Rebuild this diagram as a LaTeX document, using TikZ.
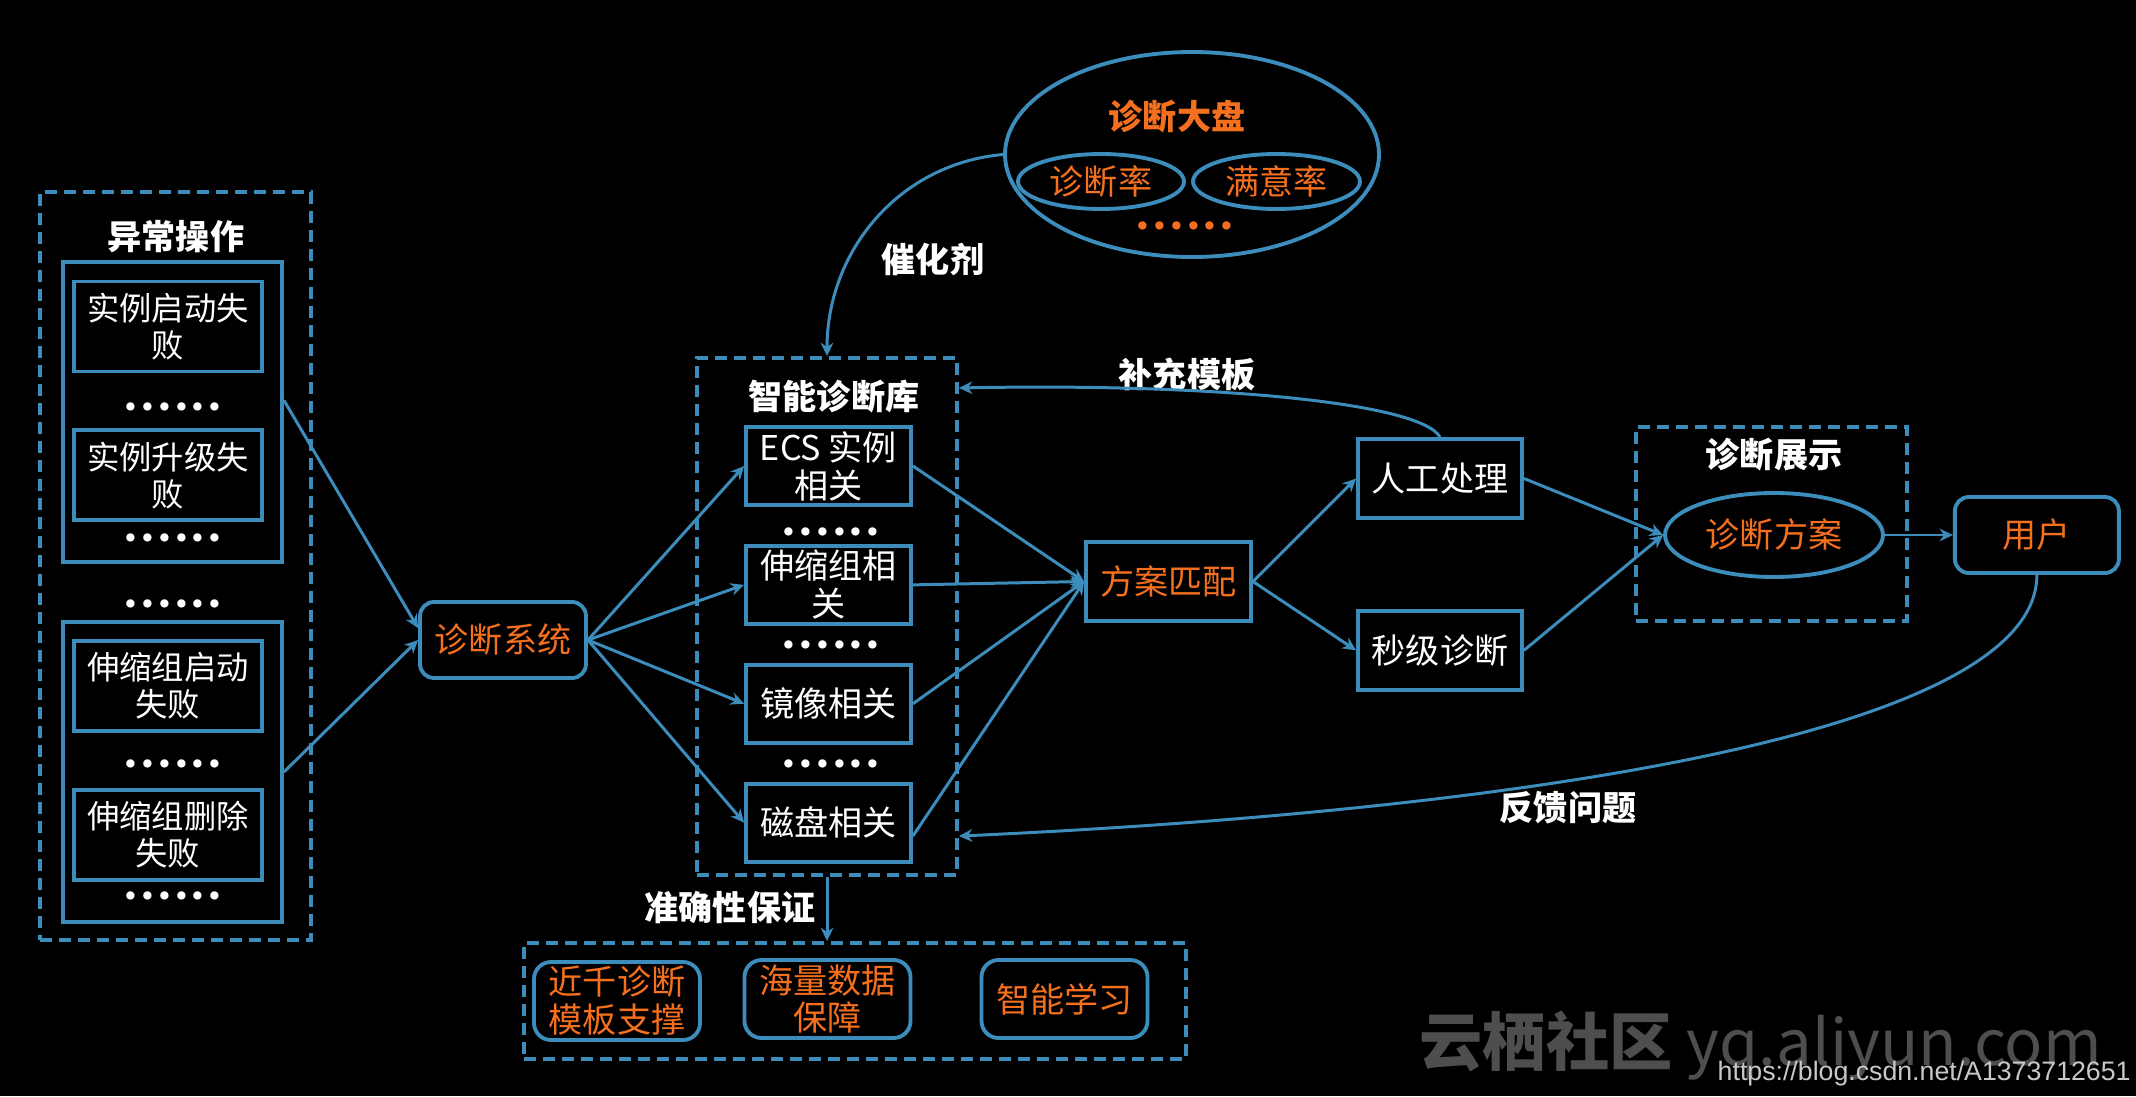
\documentclass[tikz,border=0pt]{standalone}
\usepackage{fontspec}
\setmainfont{Noto Sans CJK SC}
\newfontfamily\dotfont{DejaVu Sans}
\newfontfamily\urlfont{Liberation Sans}
\usetikzlibrary{shapes.geometric, arrows.meta, positioning, calc}
\definecolor{lineblue}{HTML}{3C8DBC}
\definecolor{hotorange}{HTML}{F5701E}
\definecolor{markgray}{HTML}{4E4E4E}
\definecolor{urlgray}{HTML}{C8C8C8}
\newcommand{\boxfont}{\fontsize{9.7pt}{10.8pt}\selectfont}
\newcommand{\smallboxfont}{\fontsize{9.2pt}{10.6pt}\selectfont}
\newcommand{\headfont}{\fontsize{9.7pt}{10.8pt}\selectfont\bfseries}
\tikzset{
  % plain boxes with white text
  opbox/.style={
    rectangle, draw=lineblue, line width=1.1pt, text=white, font=\boxfont,
    align=center, inner sep=1pt, minimum width=1.88cm, minimum height=0.9cm,
  },
  libbox/.style={opbox, minimum width=1.65cm, minimum height=0.78cm},
  grpbox/.style={rectangle, draw=lineblue, line width=1.1pt, minimum width=2.19cm, minimum height=3cm},
  % dashed zones
  zonebox/.style={rectangle, draw=lineblue, line width=1.1pt, dash pattern=on 0.12cm off 0.07cm},
  % rounded boxes with orange text
  hotbox/.style={
    rectangle, rounded corners=0.14cm, draw=lineblue, line width=1.1pt,
    text=hotorange, font=\boxfont, align=center, inner sep=1pt,
    minimum width=1.66cm, minimum height=0.78cm,
  },
  hotoval/.style={ellipse, draw=lineblue, line width=1.1pt, text=hotorange, font=\boxfont, inner sep=0pt},
  % titles and labels
  headtext/.style={text=white, font=\headfont, inner sep=1pt},
  dotline/.style={font=\dotfont\fontsize{8.1pt}{9pt}\selectfont, text=#1, inner sep=0pt},
  dotline/.default={white},
  % arrows
  flow/.style={-{Stealth[length=3.8pt, width=3.6pt]}, draw=lineblue, line width=0.85pt},
}
\begin{document}
\begin{tikzpicture}

  % page
  \fill[black] (0,0) rectangle (21.36,10.96);

  % abnormal operations
  \node[zonebox, minimum width=2.71cm, minimum height=7.48cm] (opszone) at (1.755,5.30) {};
  \node[headtext] (opstitle) at (1.76,8.59) {异常操作};
  \node[grpbox] (grpinst) at (1.725,6.84) {};
  \node[opbox, font=\smallboxfont] (opstart) at (1.68,7.695) {实例启动失\\败};
  \node[opbox, font=\smallboxfont, below=0.55cm of opstart] (opupgrade) {实例升级失\\败};
  \node[grpbox] (grpscale) at (1.725,3.24) {};
  \node[opbox, font=\smallboxfont] (opscalestart) at (1.68,4.10) {伸缩组启动\\失败};
  \node[opbox, font=\smallboxfont, below=0.55cm of opscalestart] (opscaledel) {伸缩组删除\\失败};
  \node[dotline] (opsdots1) at (1.73,6.86) {••••••};
  \node[dotline] (opsdots2) at (1.73,5.55) {••••••};
  \node[dotline] (opsdots3) at (1.73,4.89) {••••••};
  \node[dotline] (opsdots4) at (1.73,3.29) {••••••};
  \node[dotline] (opsdots5) at (1.73,1.97) {••••••};

  % diagnosis system
  \node[hotbox, minimum height=0.76cm] (diag) at (5.03,4.56) {诊断系统};

  % knowledge base
  \node[zonebox, minimum width=2.60cm, minimum height=5.17cm] (libzone) at (8.27,4.795) {};
  \node[headtext] (libtitle) at (8.34,6.99) {智能诊断库};
  \node[libbox] (libecs) at (8.285,6.30) {ECS 实例\\相关};
  \node[libbox, below=0.37cm of libecs] (libscale) {伸缩组相\\关};
  \node[libbox, below=0.37cm of libscale] (libimage) {镜像相关};
  \node[libbox, below=0.37cm of libimage] (libdisk) {磁盘相关};
  \node[dotline] (libdots1) at (8.31,5.61) {••••••};
  \node[dotline] (libdots2) at (8.31,4.48) {••••••};
  \node[dotline] (libdots3) at (8.31,3.29) {••••••};

  % dashboard
  \node[hotoval, minimum width=3.74cm, minimum height=2.05cm] (board) at (11.92,9.415) {};
  \node[headtext, text=hotorange] (boardtitle) at (11.77,9.79) {诊断大盘};
  \node[hotoval, minimum width=1.66cm, minimum height=0.55cm] (diagrate) at (11.01,9.145) {诊断率};
  \node[hotoval, minimum width=1.67cm, minimum height=0.55cm] (happyrate) at (12.765,9.145) {满意率};
  \node[dotline=hotorange] (boarddots) at (11.85,8.67) {••••••};

  % matching and handling
  \node[libbox, minimum height=0.79cm, text=hotorange] (match) at (11.685,5.145) {方案匹配};
  \node[libbox, minimum width=1.64cm, minimum height=0.79cm] (manual) at (14.40,6.175) {人工处理};
  \node[libbox, minimum width=1.64cm, minimum height=0.79cm, below=0.89cm of manual] (fast) {秒级诊断};

  % display and user
  \node[zonebox, minimum width=2.71cm, minimum height=1.94cm] (showzone) at (17.715,5.72) {};
  \node[headtext] (showtitle) at (17.74,6.41) {诊断展示};
  \node[hotoval, minimum width=2.18cm, minimum height=0.84cm] (plan) at (17.74,5.61) {诊断方案};
  \node[hotbox, minimum width=1.64cm, minimum height=0.76cm, right=0.68cm of plan] (user) {用户};

  % accuracy
  \node[zonebox, minimum width=6.62cm, minimum height=1.16cm] (acczone) at (8.55,0.95) {};
  \node[hotbox, rounded corners=0.17cm] (acctpl) at (6.17,0.95) {近千诊断\\模板支撑};
  \node[hotbox, rounded corners=0.17cm] (accdata) at (8.275,0.97) {海量数据\\保障};
  \node[hotbox, rounded corners=0.17cm] (acclearn) at (10.645,0.97) {智能学习};

  % labels
  \node[headtext] (catalyst) at (9.33,8.37) {催化剂};
  \node[headtext] (addtpl) at (11.87,7.22) {补充模板};
  \node[headtext] (feedback) at (15.68,2.88) {反馈问题};
  \node[headtext] (accuracy) at (7.30,1.88) {准确性保证};

  % watermark
  \node[anchor=base west, text=markgray, font=\fontsize{18pt}{20pt}\selectfont, inner sep=0pt] (mark) at (14.19,0.31) {{\bfseries 云栖社区} yq.aliyun.com};
  \node[anchor=base west, text=urlgray, font=\urlfont\fontsize{7.6pt}{9pt}\selectfont, inner sep=0pt] (url) at (17.17,0.16) {https://blog.csdn.net/A1373712651};

  % arrows
  \draw[flow] (grpinst.6) -- (diag.172);
  \draw[flow] (grpscale.east) -- (diag.west);
  \draw[flow] (diag.east) -- (libecs.west);
  \draw[flow] (diag.east) -- (libscale.west);
  \draw[flow] (diag.east) -- (libimage.west);
  \draw[flow] (diag.east) -- (libdisk.west);
  \draw[flow] (libecs.east) -- (match.west);
  \draw[flow] (libscale.east) -- (match.west);
  \draw[flow] (libimage.east) -- (match.west);
  \draw[flow] (libdisk.-9) -- (match.west);
  \draw[flow] (match.east) -- (manual.west);
  \draw[flow] (match.east) -- (fast.west);
  \draw[flow] (manual.east) -- (plan.west);
  \draw[flow] (fast.east) -- (plan.west);
  \draw[flow] (plan.east) -- (user.west);
  \draw[flow] (board.west) to[out=185, in=90] (libzone.north);
  \draw[flow] (manual.north) .. controls +(-0.2,0.35) and +(2.5,0.05) .. (libzone.60.5);
  \draw[flow] (user.south) .. controls +(0,-1.6) and +(5.5,0.25) .. (libzone.-59);
  \draw[flow] (libzone.south) -- (libzone.south |- acczone.north);

\end{tikzpicture}
\end{document}
